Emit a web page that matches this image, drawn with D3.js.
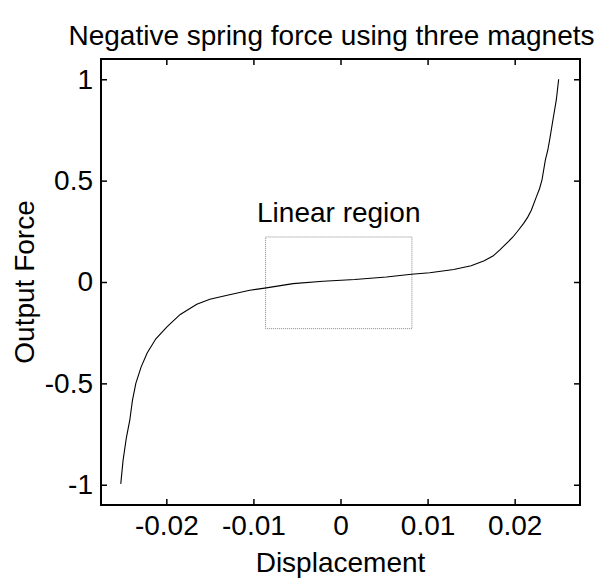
<!DOCTYPE html>
<html>
<head>
<meta charset="utf-8">
<script src="https://cdn.jsdelivr.net/npm/d3@7"></script>
<style>
  html, body { margin: 0; padding: 0; background: #fff; }
  svg { display: block; font-family: "Liberation Sans", Arial, Helvetica, sans-serif; }
</style>
</head>
<body>
<svg id="chart" width="607" height="579"></svg>
<script>
// Force vs displacement for the three-magnet negative spring
const displacement = [
  -0.02523, -0.02497, -0.02458, -0.02420, -0.02389, -0.02350, -0.02290, -0.02220,
  -0.02120, -0.01990, -0.01840, -0.01650, -0.01500, -0.01300, -0.01042, -0.00870,
  -0.00545, -0.00200, 0.00163, 0.00527, 0.00814, 0.01024, 0.01300, 0.01500,
  0.01650, 0.01750, 0.01827, 0.01900, 0.01980, 0.02040, 0.02103, 0.02150,
  0.02191, 0.02249, 0.02285, 0.02313, 0.02352, 0.02380, 0.02401, 0.02439,
  0.02478, 0.02505
];
const force = [
  -0.996, -0.881, -0.766, -0.683, -0.584, -0.500, -0.420, -0.350,
  -0.280, -0.220, -0.160, -0.110, -0.085, -0.065, -0.041, -0.030,
  -0.008, 0.0035, 0.012, 0.0247, 0.038, 0.046, 0.062, 0.080,
  0.105, 0.128, 0.157, 0.188, 0.222, 0.254, 0.289, 0.320,
  0.354, 0.420, 0.460, 0.502, 0.601, 0.650, 0.700, 0.799,
  0.898, 1.000
];
const xTicks = [-0.02, -0.01, 0, 0.01, 0.02];
const xTickLabels = ["-0.02", "-0.01", "0", "0.01", "0.02"];
const yTicks = [-1, -0.5, 0, 0.5, 1];
const yTickLabels = ["-1", "-0.5", "0", "0.5", "1"];
const linearRegionX = [-0.0086, 0.0082];
const linearRegionY = [-0.23, 0.222];

const svg = d3.select("#chart");
const plot = { left: 101, right: 580, top: 59, bottom: 505 };

const x = d3.scaleLinear().domain([-0.0275, 0.0275]).range([plot.left, plot.right]);
const y = d3.scaleLinear().domain([-1.1, 1.1]).range([plot.bottom, plot.top]);

const fontSize = 28;
const tickLen = 6;

function styleAxis(g) {
  g.select(".domain").remove();
  g.selectAll(".tick line").attr("stroke", "#000").attr("stroke-width", 1.5);
  g.selectAll(".tick text").attr("fill", "#000").attr("font-size", fontSize);
}

// bottom and left axes with labels, inward ticks
svg.append("g")
  .attr("transform", `translate(0,${plot.bottom})`)
  .call(d3.axisBottom(x).tickValues(xTicks)
    .tickFormat((d, i) => xTickLabels[i])
    .tickSizeInner(-tickLen).tickSizeOuter(0).tickPadding(10))
  .call(styleAxis);

svg.append("g")
  .attr("transform", `translate(${plot.left},0)`)
  .call(d3.axisLeft(y).tickValues(yTicks)
    .tickFormat((d, i) => yTickLabels[i])
    .tickSizeInner(-tickLen).tickSizeOuter(0).tickPadding(8))
  .call(styleAxis);

// top and right axes: ticks only
svg.append("g")
  .attr("transform", `translate(0,${plot.top})`)
  .call(d3.axisTop(x).tickValues(xTicks).tickFormat("")
    .tickSizeInner(-tickLen).tickSizeOuter(0))
  .call(styleAxis);

svg.append("g")
  .attr("transform", `translate(${plot.right},0)`)
  .call(d3.axisRight(y).tickValues(yTicks).tickFormat("")
    .tickSizeInner(-tickLen).tickSizeOuter(0))
  .call(styleAxis);

// axes box
svg.append("rect")
  .attr("x", plot.left).attr("y", plot.top)
  .attr("width", plot.right - plot.left).attr("height", plot.bottom - plot.top)
  .attr("fill", "none").attr("stroke", "#000").attr("stroke-width", 2);

// linear region frame
svg.append("rect")
  .attr("x", x(linearRegionX[0])).attr("y", y(linearRegionY[1]))
  .attr("width", x(linearRegionX[1]) - x(linearRegionX[0]))
  .attr("height", y(linearRegionY[0]) - y(linearRegionY[1]))
  .attr("fill", "none").attr("stroke", "#888").attr("stroke-width", 1)
  .attr("stroke-dasharray", "1,1");

svg.append("text")
  .attr("x", x((linearRegionX[0] + linearRegionX[1]) / 2))
  .attr("y", y(linearRegionY[1]) - 15)
  .attr("text-anchor", "middle")
  .attr("font-size", fontSize)
  .text("Linear region");

// force curve
const line = d3.line().x((d, i) => x(displacement[i])).y(d => y(d));
svg.append("path")
  .datum(force)
  .attr("d", line)
  .attr("fill", "none").attr("stroke", "#000").attr("stroke-width", 1.1);

// titles
svg.append("text")
  .attr("x", (plot.left + plot.right) / 2 - 9).attr("y", 45)
  .attr("text-anchor", "middle").attr("font-size", fontSize)
  .text("Negative spring force using three magnets");

svg.append("text")
  .attr("x", (plot.left + plot.right) / 2).attr("y", 572)
  .attr("text-anchor", "middle").attr("font-size", fontSize)
  .text("Displacement");

svg.append("text")
  .attr("transform", `translate(34,${(plot.top + plot.bottom) / 2}) rotate(-90)`)
  .attr("text-anchor", "middle").attr("font-size", fontSize)
  .text("Output Force");
</script>
</body>
</html>
